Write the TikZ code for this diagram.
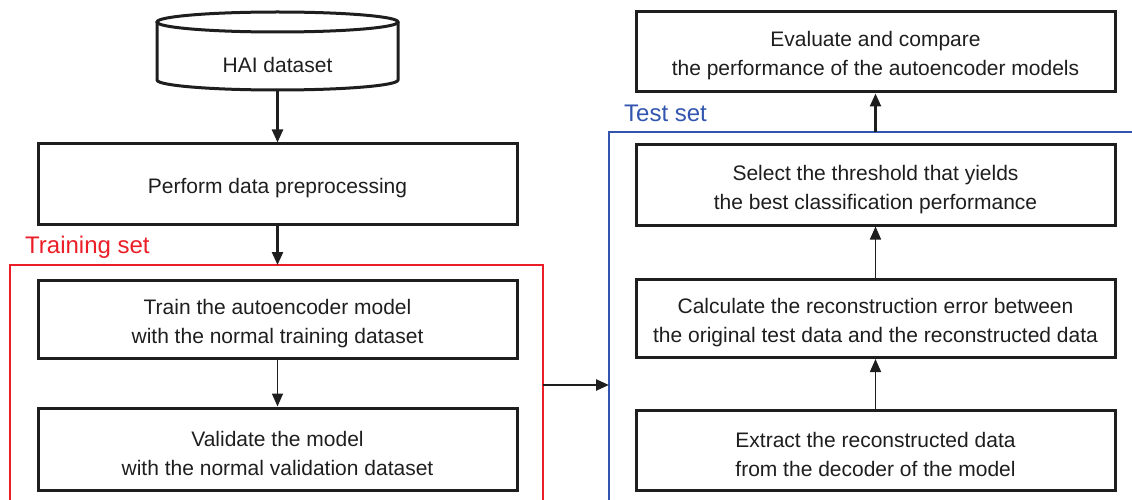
\documentclass[tikz,border=0pt]{standalone}
\usepackage{fontspec}
\setmainfont{Liberation Sans}
\usetikzlibrary{arrows.meta}
\definecolor{trainred}{RGB}{235,30,40}
\definecolor{testblue}{RGB}{50,85,175}
\definecolor{boxblack}{RGB}{30,30,30}
\tikzset{
  procbox/.style={draw=boxblack, line width=3pt, minimum width=479pt, minimum height=80pt, inner sep=0pt},
  boxtext/.style={align=center, inner sep=0pt, font=\fontsize{21}{29}\selectfont, text=boxblack, yshift=-4.5pt},
  flow/.style={draw=boxblack, line width=2.4pt, -{Triangle[length=13pt,width=11pt]}},
  thinflow/.style={draw=boxblack, line width=1.5pt, -{Triangle[length=13pt,width=11pt]}},
  lbl/.style={font=\fontsize{24}{26}\selectfont, anchor=west, inner sep=0pt}
}
\begin{document}
\begin{tikzpicture}[x=1pt,y=-1pt]
\useasboundingbox (0,0) rectangle (1132,500);
\clip (0,0) rectangle (1132,500);
% cylinder
\draw[boxblack, line width=3pt] (157,22) -- (157,80) arc[start angle=180, end angle=0, x radius=120.5, y radius=10] -- (398,22);
\draw[boxblack, line width=3pt] (277.5,22) ellipse [x radius=120.5, y radius=10];
\node[boxtext, yshift=-1pt] (hai) at (277.5,59) {HAI dataset};
\coordinate (haib) at (277.5,90);
% left column
\node[procbox] (pre) at (277.5,184) {};
\node[boxtext] (pret) at (pre.center) {Perform data preprocessing};
\node[procbox, minimum height=78pt] (train) at (277.5,319) {};
\node[boxtext] (traint) at (train.center) {Train the autoencoder model\\with the normal training dataset};
\node[procbox, minimum height=82pt] (val) at (277.5,449) {};
\node[boxtext] (valt) at (val.center) {Validate the model\\with the normal validation dataset};
% training frame
\draw[trainred, line width=2.4pt] (10,520) -- (10,265) -- (543,265) -- (543,520);
\coordinate (redtop) at (277.5,265);
\coordinate (redright) at (543,385);
\node[lbl, text=trainred] (trlbl) at (25,247) {Training set};
% right column
\node[procbox, minimum width=479pt, minimum height=80pt] (eval) at (875.5,52) {};
\node[boxtext, yshift=0.5pt] (evalt) at (eval.center) {Evaluate and compare\\the performance of the autoencoder models};
\node[procbox, minimum width=479pt] (sel) at (875.5,185) {};
\node[boxtext] (selt) at (sel.center) {Select the threshold that yields\\the best classification performance};
\node[procbox, minimum width=479pt, minimum height=78pt] (calc) at (875.5,318.5) {};
\node[boxtext] (calct) at (calc.center) {Calculate the reconstruction error between\\the original test data and the reconstructed data};
\node[procbox, minimum width=479pt] (ext) at (875.5,450) {};
\node[boxtext] (extt) at (ext.center) {Extract the reconstructed data\\from the decoder of the model};
% test frame
\draw[testblue, line width=2.4pt] (609,520) -- (609,132) -- (1150,132);
\coordinate (bluetop) at (875.5,132);
\coordinate (blueleft) at (609,385);
\node[lbl, text=testblue] (tslbl) at (624,113) {Test set};
% arrows
\draw[flow] (haib) -- (pre.north);
\draw[flow] (pre.south) -- (redtop);
\draw[thinflow] (train.south) -- (val.north);
\draw[flow] (redright) -- (blueleft);
\draw[thinflow] (ext.north) -- (calc.south);
\draw[thinflow] (calc.north) -- (sel.south);
\draw[flow] (bluetop) -- (eval.south);
\end{tikzpicture}
\end{document}
